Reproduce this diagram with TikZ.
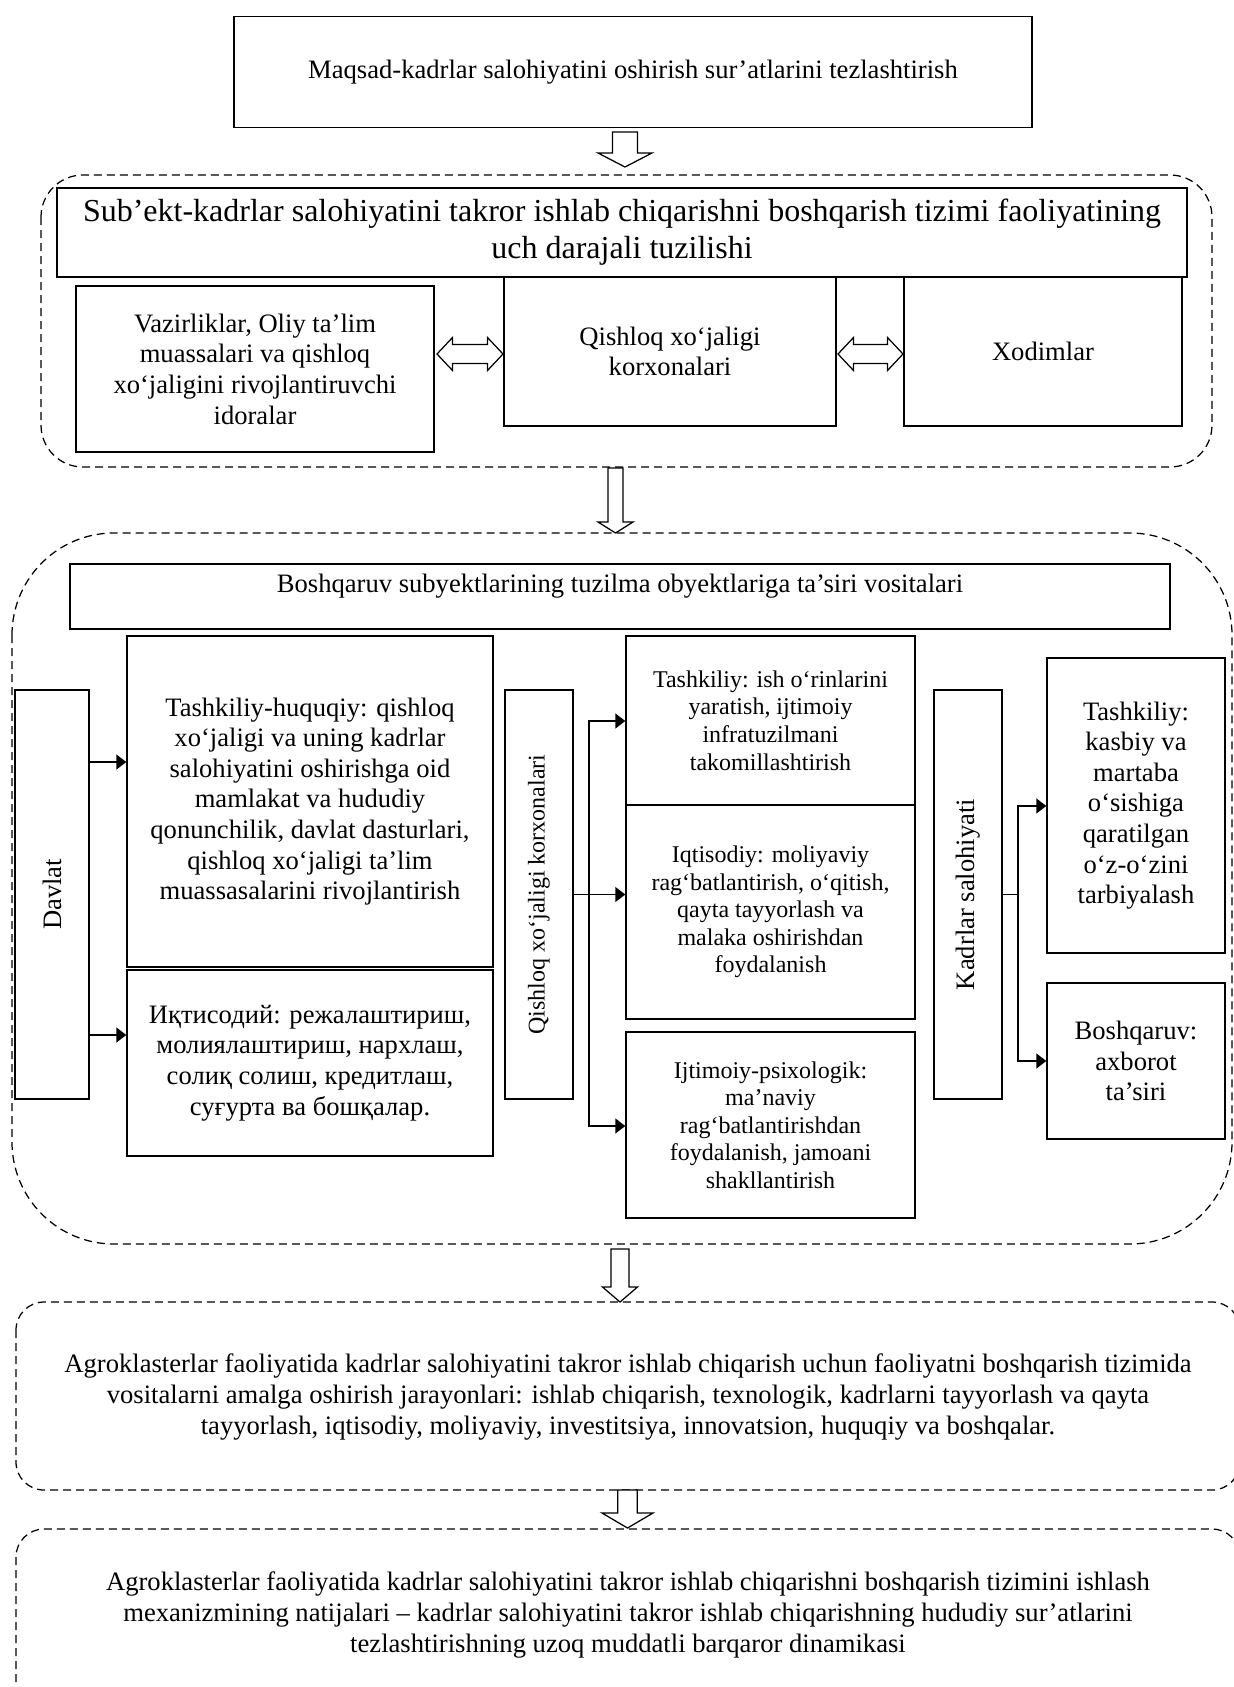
\documentclass[tikz,border=0pt]{standalone}
\usepackage{fontspec}
\setmainfont{Liberation Serif}
\usetikzlibrary{arrows.meta,calc}
\newcommand\fa{\fontsize{26.6}{30.6}\selectfont}
\newcommand\fb{\fontsize{24}{27.6}\selectfont}
\newcommand\fc{\fontsize{32}{36.8}\selectfont}
\newcommand\fd{\fontsize{26.6}{31}\selectfont}
% vertical hollow block arrow: x, ytop, yhead, ytip, shaft half, head half
\newcommand\vblockarrow[6]{%
  \draw[blk] ({#1-#5},#2) -- ({#1+#5},#2) -- ({#1+#5},#3) -- ({#1+#6},#3) --
    (#1,#4) -- ({#1-#6},#3) -- ({#1-#5},#3) -- cycle;}
% horizontal hollow double arrow: xl, xr, yc, shaft half, head half, head length
\newcommand\hblockboth[6]{%
  \draw[blk] (#1,#3) -- ({#1+#6},{#3-#5}) -- ({#1+#6},{#3-#4}) -- ({#2-#6},{#3-#4}) --
    ({#2-#6},{#3-#5}) -- (#2,#3) -- ({#2-#6},{#3+#5}) -- ({#2-#6},{#3+#4}) --
    ({#1+#6},{#3+#4}) -- ({#1+#6},{#3+#5}) -- cycle;}
\tikzset{
  box/.style={draw, line width=1.4pt, inner sep=0pt, align=center, fill=white},
  region/.style={draw, line width=1.25pt, dash pattern=on 8pt off 5pt},
  blk/.style={draw, line width=1.25pt, fill=white, line join=miter},
  ln/.style={line width=1.4pt},
  conn/.style={line width=1.4pt, -{Triangle[length=10pt,width=15pt]}},
}
\begin{document}
\begin{tikzpicture}[x=1pt,y=-1pt]
\useasboundingbox (0,0) rectangle (1234,1687);

% ---------- top goal box
\node[box, minimum width=798, minimum height=111, font=\fa] (goal) at (633,72)
  {Maqsad-kadrlar salohiyatini oshirish sur’atlarini tezlashtirish};

% ---------- region 1
\draw[region, rounded corners=42] (41,175) rectangle (1212,467);
\vblockarrow{625}{132}{153}{167}{12.5}{27}

\node[box, minimum width=1130, minimum height=89, font=\fc] (hdr) at (622,232.5)
  {Sub’ekt-kadrlar salohiyatini takror ishlab chiqarishni boshqarish tizimi faoliyatining\\uch darajali tuzilishi};
\node[box, minimum width=358, minimum height=166, font=\fa] (vaz) at (255,369)
  {Vazirliklar, Oliy ta’lim\\muassalari va qishloq\\xo‘jaligini rivojlantiruvchi\\idoralar};
\node[box, minimum width=332, minimum height=149, font=\fa] (qxk) at (670,351.5)
  {Qishloq xo‘jaligi\\korxonalari};
\node[box, minimum width=278, minimum height=149, font=\fa] (xod) at (1043,351.5)
  {Xodimlar};
\draw[line width=1.4pt] (hdr.south west) -- (hdr.south east);
\hblockboth{437}{503}{354}{9.5}{16.5}{15.5}
\hblockboth{838}{903}{354}{9.5}{16.5}{15.5}

% ---------- arrow to region 2
\vblockarrow{615.5}{468}{522}{533}{7.5}{17.5}

% ---------- region 2
\draw[region, rounded corners=102] (12,533) rectangle (1232,1244);
\node[box, minimum width=1100, minimum height=65] (bhdr) at (620,596.5) {};
\node[anchor=base, font=\fa, inner sep=0pt] (bhdrt) at (620,592)
  {Boshqaruv subyektlarining tuzilma obyektlariga ta’siri vositalari};

\node[box, rotate=90, minimum width=409, minimum height=74, font=\fa] (dav) at (52,894.5) {Davlat};
\node[box, minimum width=366, minimum height=331, font=\fa] (th) at (310,801.5)
  {Tashkiliy-huquqiy: qishloq\\xo‘jaligi va uning kadrlar\\salohiyatini oshirishga oid\\mamlakat va hududiy\\qonunchilik, davlat dasturlari,\\qishloq xo‘jaligi ta’lim\\muassasalarini rivojlantirish};
\node[box, minimum width=366, minimum height=186, font=\fa] (iq) at (310,1063)
  {Иқтисодий: режалаштириш,\\молиялаштириш, нархлаш,\\солиқ солиш, кредитлаш,\\суғурта ва бошқалар.};

\node[box, rotate=90, minimum width=409, minimum height=68, font=\fb] (qv) at (539,894.5)
  {Qishloq xo‘jaligi korxonalari};
\node[box, minimum width=289, minimum height=169, font=\fb] (ti) at (770.5,720.5)
  {Tashkiliy: ish o‘rinlarini\\yaratish, ijtimoiy\\infratuzilmani\\takomillashtirish};
\node[box, minimum width=289, minimum height=214, font=\fb] (im) at (770.5,912)
  {Iqtisodiy: moliyaviy\\rag‘batlantirish, o‘qitish,\\qayta tayyorlash va\\malaka oshirishdan\\foydalanish};
\node[box, minimum width=289, minimum height=186, font=\fb] (ij) at (770.5,1125)
  {Ijtimoiy-psixologik:\\ma’naviy\\rag‘batlantirishdan\\foydalanish, jamoani\\shakllantirish};

\node[box, rotate=90, minimum width=409, minimum height=68, font=\fa] (ks) at (968,894.5)
  {Kadrlar salohiyati};
\node[box, minimum width=178, minimum height=295, font=\fa] (kb) at (1136,805.5)
  {Tashkiliy:\\kasbiy va\\martaba\\o‘sishiga\\qaratilgan\\o‘z-o‘zini\\tarbiyalash};
\node[box, minimum width=178, minimum height=156, font=\fa] (ax) at (1136,1061)
  {Boshqaruv:\\axborot\\ta’siri};

% connectors
\draw[conn] (dav.south |- 0,762) -- (th.west |- 0,762);
\draw[conn] (dav.south |- 0,1035) -- (iq.west |- 0,1035);

\coordinate (qj) at (589,894.5);
\draw[ln] (qv.south) -- (qj);
\draw[ln] (589,721) -- (589,1126);
\draw[conn] (qj) |- (ti.west |- 0,721);
\draw[conn] (qj) -- (im.west |- qj);
\draw[conn] (qj) |- (ij.west |- 0,1126);

\coordinate (kj) at (1018,894.5);
\draw[ln] (ks.south) -- (kj);
\draw[ln] (1018,806) -- (1018,1061);
\draw[conn] (kj) |- (kb.west |- 0,806);
\draw[conn] (kj) |- (ax.west |- 0,1061);

% ---------- arrow to region 3
\vblockarrow{620}{1249}{1287}{1302}{9}{17.5}

% ---------- region 3
\draw[region, rounded corners=28] (16,1302) rectangle (1240,1490);
\node[font=\fd, align=center, inner sep=0pt] (r3) at (628,1397)
  {Agroklasterlar faoliyatida kadrlar salohiyatini takror ishlab chiqarish uchun faoliyatni boshqarish tizimida\\vositalarni amalga oshirish jarayonlari: ishlab chiqarish, texnologik, kadrlarni tayyorlash va qayta\\tayyorlash, iqtisodiy, moliyaviy, investitsiya, innovatsion, huquqiy va boshqalar.};

% ---------- arrow to region 4
\vblockarrow{627.5}{1490}{1513}{1528}{9.8}{25.5}

% ---------- region 4
\draw[region, rounded corners=28] (16,1529) rectangle (1240,1720);
\node[font=\fd, align=center, inner sep=0pt] (r4) at (628,1615)
  {Agroklasterlar faoliyatida kadrlar salohiyatini takror ishlab chiqarishni boshqarish tizimini ishlash\\mexanizmining natijalari – kadrlar salohiyatini takror ishlab chiqarishning hududiy sur’atlarini\\tezlashtirishning uzoq muddatli barqaror dinamikasi};
\end{tikzpicture}
\end{document}
